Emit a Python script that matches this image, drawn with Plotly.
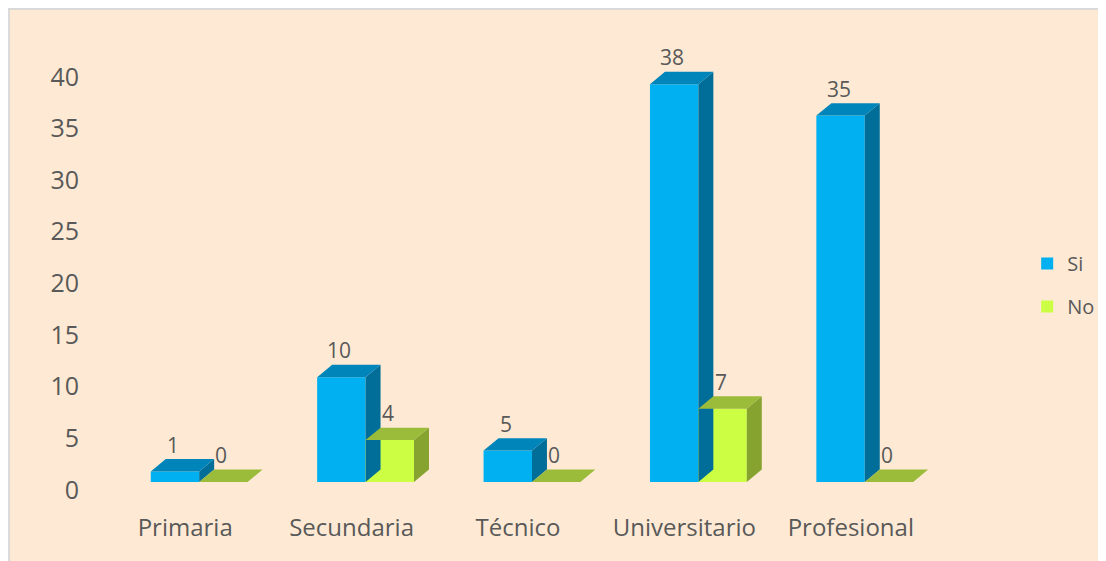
import plotly.graph_objects as go

# Datos
categorias = ["Primaria", "Secundaria", "Técnico", "Universitario", "Profesional"]
si_values = [1, 10, 3, 38, 35]          # altura dibujada de cada barra
si_labels = ["1", "10", "5", "38", "35"]  # etiqueta mostrada
no_values = [0, 4, 0, 7, 0]
no_labels = ["0", "4", "0", "7", "0"]
y_ticks = [0, 5, 10, 15, 20, 25, 30, 35, 40]

# estilo / geometria "3D"
BAR_W = 0.291
SI_OFF = -0.207
NO_OFF = SI_OFF + BAR_W
DX = 0.09   # profundidad en x
DY = 1.19   # profundidad en y
TXT = "#595959"
FONT = "Open Sans"

x_idx = list(range(len(categorias)))


def faces(values, off):
    side_x, side_y, top_x, top_y = [], [], [], []
    for i, v in zip(x_idx, values):
        x0 = i + off
        x1 = x0 + BAR_W
        side_x += [x1, x1 + DX, x1 + DX, x1, x1, None]
        side_y += [0, DY, v + DY, v, 0, None]
        top_x += [x0, x0 + DX, x1 + DX, x1, x0, None]
        top_y += [v, v + DY, v + DY, v, v, None]
    return side_x, side_y, top_x, top_y


fig = go.Figure()

# traza invisible para que se dibuje el eje de etiquetas
fig.add_trace(go.Scatter(x=x_idx[:1], y=y_ticks[:1], mode="markers",
                         marker=dict(opacity=0), showlegend=False, hoverinfo="skip"))

series = [
    ("Si", si_values, SI_OFF, "#00B0F0", "#006E99", "#0085BA"),
    ("No", no_values, NO_OFF, "#CCFF44", "#86A22F", "#9BBB3B"),
]
for name, vals, off, c_front, c_side, c_top in series:
    fig.add_trace(go.Bar(
        x=x_idx, y=vals, width=BAR_W, offset=off, name=name,
        marker=dict(color=c_front, line=dict(width=0)),
        yaxis="y2", legendgroup=name,
    ))
    sx, sy, tx, ty = faces(vals, off)
    fig.add_trace(go.Scatter(x=sx, y=sy, fill="toself", fillcolor=c_side, mode="none",
                             yaxis="y2", showlegend=False, hoverinfo="skip"))
    fig.add_trace(go.Scatter(x=tx, y=ty, fill="toself", fillcolor=c_top, mode="none",
                             yaxis="y2", showlegend=False, hoverinfo="skip"))

# etiquetas de datos
for vals, labels, off in [(si_values, si_labels, SI_OFF), (no_values, no_labels, NO_OFF)]:
    for i, v, t in zip(x_idx, vals, labels):
        fig.add_annotation(x=i + off + BAR_W / 2 - 0.012, y=v, xref="x", yref="y2", text=t,
                           showarrow=False, yshift=27, yanchor="middle",
                           font=dict(size=21, color=TXT, family=FONT))

fig.update_layout(
    width=1098, height=553,
    margin=dict(l=94, r=172, t=32, b=50, autoexpand=False),
    paper_bgcolor="white",
    plot_bgcolor="rgba(0,0,0,0)",
    barmode="overlay",
    font=dict(family=FONT, color=TXT),
    xaxis=dict(range=[-0.5, 4.5], tickvals=x_idx, ticktext=categorias,
               showgrid=False, zeroline=False, showline=False,
               tickfont=dict(size=24, color=TXT)),
    yaxis=dict(range=[-2.033, 43.56], tickvals=y_ticks, showgrid=False,
               zeroline=False, showline=False, ticklabelstandoff=22,
               tickfont=dict(size=25, color=TXT)),
    yaxis2=dict(range=[-2.77, 42.22], overlaying="y", visible=False),
    legend=dict(x=1.112, y=0.48, xanchor="left", yanchor="middle",
                bgcolor="rgba(0,0,0,0)", font=dict(size=20, color=TXT),
                tracegroupgap=14),
    shapes=[dict(type="rect", xref="paper", yref="paper",
                 x0=-0.1117, x1=1.3, y0=-0.2, y1=1.0658,
                 fillcolor="#FEEAD4", line=dict(color="#D9D9D9", width=2),
                 layer="below")],
)

fig.write_html("out.html")
